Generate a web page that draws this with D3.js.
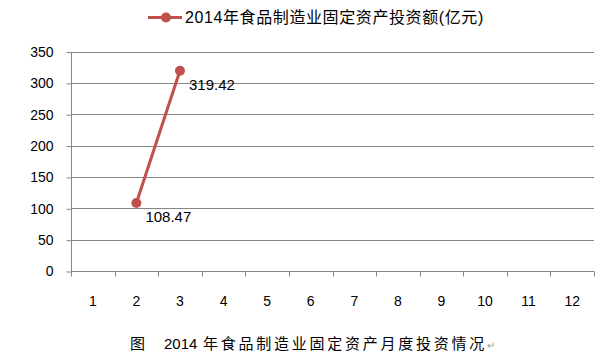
<!DOCTYPE html>
<html>
<head>
<meta charset="utf-8">
<script src="https://cdn.jsdelivr.net/npm/d3@7"></script>
<style>
  body { margin: 0; background: #fff; }
  text { font-family: "Liberation Sans", "Noto Sans CJK SC", sans-serif; }
</style>
</head>
<body>
<div id="chart"></div>
<script>
var months = ["1", "2", "3", "4", "5", "6", "7", "8", "9", "10", "11", "12"];
var investMonths = ["2", "3"];
var investValues = [108.47, 319.42];
var yTicks = [0, 50, 100, 150, 200, 250, 300, 350];
var seriesName = "2014年食品制造业固定资产投资额(亿元)";
var captionLead = "图";
var captionYear = "2014";
var captionRest = "年食品制造业固定资产月度投资情况";

var width = 602, height = 355;
var margin = { top: 51.5, right: 8, bottom: 84, left: 71 };
var lineColor = "#C0504D";
var gridColor = "#868686";

var svg = d3.select("#chart").append("svg")
    .attr("width", width)
    .attr("height", height);

var x = d3.scaleBand()
    .domain(months)
    .range([margin.left, width - margin.right]);

var y = d3.scaleLinear()
    .domain([0, 350])
    .range([height - margin.bottom, margin.top]);

// gridlines
svg.append("g")
    .selectAll("line")
    .data(yTicks.slice(1))
    .enter().append("line")
    .attr("x1", margin.left)
    .attr("x2", width - margin.right)
    .attr("y1", function(d) { return Math.round(y(d)) + 0.5; })
    .attr("y2", function(d) { return Math.round(y(d)) + 0.5; })
    .attr("stroke", gridColor)
    .attr("stroke-width", 1);

// y axis
var yAxis = svg.append("g")
    .attr("transform", "translate(" + (margin.left + 0.5) + ",0.5)")
    .call(d3.axisLeft(y).tickValues(yTicks).tickSize(5).tickPadding(13));
yAxis.select(".domain").attr("stroke", gridColor).attr("d", "M0," + y(350) + "V" + y(0));
yAxis.selectAll(".tick line").attr("stroke", gridColor);
yAxis.selectAll("text")
    .attr("fill", "#000")
    .style("font-size", "14px");

// x axis
var xTickPos = months.map(function(m) { return x(m); }).concat([x.range()[1]]);
var xAxis = svg.append("g")
    .attr("transform", "translate(0," + (Math.round(y(0)) + 0.5) + ")");
xAxis.append("line")
    .attr("x1", margin.left)
    .attr("x2", width - margin.right)
    .attr("stroke", gridColor);
xAxis.selectAll(".xt")
    .data(xTickPos)
    .enter().append("line")
    .attr("class", "xt")
    .attr("x1", function(d) { return Math.round(d) + 0.5; })
    .attr("x2", function(d) { return Math.round(d) + 0.5; })
    .attr("y1", 0)
    .attr("y2", 5)
    .attr("stroke", gridColor);
xAxis.selectAll("text")
    .data(months)
    .enter().append("text")
    .attr("x", function(d) { return x(d) + x.bandwidth() / 2; })
    .attr("y", 34)
    .attr("text-anchor", "middle")
    .style("font-size", "14px")
    .text(function(d) { return d; });

// series line
var pts = investMonths.map(function(m, i) { return { m: m, v: investValues[i] }; });
var line = d3.line()
    .x(function(d) { return x(d.m) + x.bandwidth() / 2; })
    .y(function(d) { return y(d.v); });

svg.append("path")
    .datum(pts)
    .attr("d", line)
    .attr("fill", "none")
    .attr("stroke", lineColor)
    .attr("stroke-width", 3);

svg.selectAll(".dot")
    .data(pts)
    .enter().append("circle")
    .attr("class", "dot")
    .attr("cx", function(d) { return x(d.m) + x.bandwidth() / 2; })
    .attr("cy", function(d) { return y(d.v); })
    .attr("r", 5)
    .attr("fill", lineColor);

svg.selectAll(".lbl")
    .data(pts)
    .enter().append("text")
    .attr("class", "lbl")
    .attr("x", function(d) { return x(d.m) + x.bandwidth() / 2 + 9; })
    .attr("y", function(d) { return y(d.v) + 19; })
    .style("font-size", "15px")
    .text(function(d) { return d.v.toFixed(2); });

// legend
var lg = svg.append("g").attr("transform", "translate(148,17.5)");
lg.append("line")
    .attr("x1", 0).attr("x2", 34)
    .attr("stroke", lineColor).attr("stroke-width", 3);
lg.append("circle")
    .attr("cx", 18).attr("r", 5).attr("fill", lineColor);
lg.append("text")
    .attr("x", 37).attr("y", 5.5)
    .style("font-size", "16px")
    .style("letter-spacing", "0.6px")
    .text(seriesName);

// caption
var cap = svg.append("g").attr("transform", "translate(0,349)");
cap.append("text").attr("x", 130).style("font-size", "15px").text(captionLead);
cap.append("text").attr("x", 164).style("font-size", "15px").text(captionYear);
cap.append("text").attr("x", 203)
    .style("font-size", "15px")
    .style("letter-spacing", "2.75px")
    .text(captionRest)
  .append("tspan")
    .attr("fill", "#999")
    .style("font-size", "10px")
    .style("letter-spacing", "0px")
    .text("↵");
</script>
</body>
</html>
